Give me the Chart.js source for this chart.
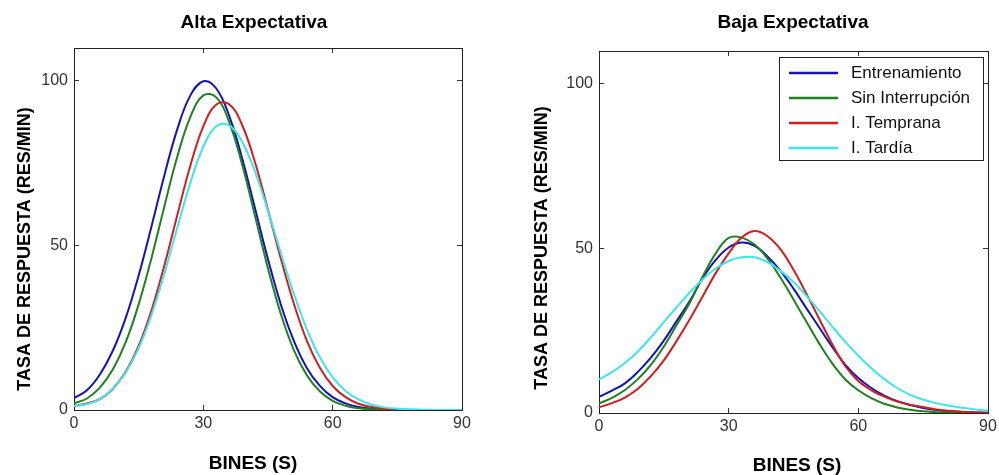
<!DOCTYPE html>
<html>
<head>
<meta charset="utf-8">
<script src="https://cdn.jsdelivr.net/npm/chart.js@4.4.1/dist/chart.umd.min.js"></script>
<style>
  body { margin: 0; background: #fff; }
  #wrap { position: relative; width: 999px; height: 475px; }
  .box { position: absolute; top: 0; height: 475px; }
</style>
</head>
<body>
<div id="wrap">
  <div class="box" style="left:0;width:499px"><canvas id="alta"></canvas></div>
  <div class="box" style="left:499px;width:500px"><canvas id="baja"></canvas></div>
</div>
<script>
// bins (seconds)
const bins = [0, 3, 6, 9, 12, 15, 18, 21, 24, 27, 30, 33, 36, 39, 42, 45, 48, 51, 54, 57, 60, 63, 66, 69, 72, 75, 78, 81, 84, 87, 90];
const xTicks = [0, 30, 60, 90];
const yTicks = [0, 50, 100];
const seriesNames = ['Entrenamiento', 'Sin Interrupción', 'I. Temprana', 'I. Tardía'];

// Alta Expectativa
const altaEntrenamiento = [3.6, 6.0, 10.8, 18.0, 28.0, 40.9, 55.9, 71.5, 85.5, 95.6, 99.9, 97.7, 89.4, 76.5, 61.2, 45.8, 32.0, 21.0, 12.8, 7.4, 3.9, 2.0, 0.9, 0.4, 0.15, 0, 0, 0, 0, 0, 0];
const altaSinInterrupcion = [2.0, 3.5, 6.8, 12.3, 20.6, 32.1, 46.3, 62.1, 77.2, 89.1, 95.6, 95.0, 87.5, 74.6, 58.9, 43.0, 29.1, 18.2, 10.6, 5.7, 2.8, 1.3, 0.5, 0.2, 0.1, 0, 0, 0, 0, 0, 0];
const altaTemprana = [1.2, 2.0, 3.3, 6.4, 11.6, 19.5, 30.4, 44.1, 59.4, 74.3, 86.2, 92.8, 92.9, 86.6, 75.2, 60.8, 45.9, 32.3, 21.1, 12.9, 7.3, 3.9, 1.9, 0.9, 0.4, 0.15, 0, 0, 0, 0, 0];
const altaTardia = [1.2, 1.8, 3.3, 6.4, 11.4, 18.8, 29.0, 41.6, 55.6, 69.1, 80.0, 86.2, 86.5, 81.5, 72.4, 60.5, 47.6, 35.3, 24.6, 16.1, 10.0, 5.8, 3.2, 1.6, 0.8, 0.4, 0.2, 0.1, 0, 0, 0];

// Baja Expectativa
const bajaEntrenamiento = [4.9, 6.8, 9.0, 12.5, 16.8, 22.0, 28.0, 34.0, 41.0, 46.5, 50.3, 51.8, 50.8, 47.6, 43.2, 37.8, 31.8, 25.9, 20.0, 14.6, 10.6, 7.6, 5.3, 3.6, 2.4, 1.5, 0.9, 0.5, 0.3, 0.15, 0.1];
const bajaSinInterrupcion = [2.9, 4.6, 7.0, 10.3, 14.6, 20.2, 26.8, 33.5, 41.5, 48.5, 53.2, 53.3, 51.2, 46.9, 41.1, 34.5, 27.7, 21.0, 15.0, 10.2, 6.9, 4.5, 2.8, 1.7, 1.0, 0.5, 0.25, 0.1, 0.05, 0, 0];
const bajaTemprana = [1.7, 3.0, 4.7, 7.4, 11.2, 16.0, 22.0, 28.5, 35.5, 42.5, 48.5, 53.3, 55.3, 53.7, 49.7, 43.5, 36.2, 28.5, 20.8, 14.2, 9.7, 6.9, 5.0, 3.5, 2.5, 1.8, 1.1, 0.7, 0.4, 0.2, 0.1];
const bajaTardia = [10.2, 12.4, 15.2, 18.7, 23.0, 27.6, 32.2, 36.6, 40.6, 43.9, 46.2, 47.3, 47.3, 45.8, 43.2, 39.8, 35.6, 31.0, 26.2, 21.6, 17.4, 13.6, 10.3, 7.6, 5.5, 4.1, 3.0, 2.2, 1.6, 1.1, 0.7];

const colors = ['#1414b4', '#1e821e', '#d21e1e', '#3ce6eb'];
const FONT = '"Liberation Sans", Arial, sans-serif';

function makeDatasets(lists) {
    return lists.map((vals, i) => ({
        label: seriesNames[i],
        data: bins.map((b, k) => ({ x: b, y: vals[k] })),
        borderColor: colors[i],
        backgroundColor: colors[i],
        borderWidth: 2,
        pointRadius: 0,
        fill: false,
        tension: 0.4,
        order: lists.length - i   // last series drawn on top
    }));
}

// titles and axis labels drawn on the canvas
const textPlugin = {
    id: 'textos',
    afterDraw(chart, args, o) {
        const ctx = chart.ctx;
        ctx.save();
        ctx.fillStyle = '#000';
        ctx.textAlign = 'center';
        ctx.textBaseline = 'alphabetic';
        ctx.font = 'bold 19px ' + FONT;
        ctx.fillText(o.title, o.titleX, o.titleY);
        ctx.fillText(o.xLabel, o.xLabelX, o.xLabelY);
        ctx.font = 'bold 18px ' + FONT;
        ctx.translate(o.yLabelX, o.yLabelY);
        ctx.rotate(-Math.PI / 2);
        ctx.fillText(o.yLabel, 0, 0);
        ctx.restore();
    }
};

// boxed legend inside the plot
const legendPlugin = {
    id: 'leyenda',
    afterDatasetsDraw(chart, args, o) {
        if (!o.show) return;
        const ctx = chart.ctx;
        ctx.save();
        ctx.fillStyle = '#fff';
        ctx.fillRect(o.x, o.y, o.w, o.h);
        ctx.strokeStyle = '#222';
        ctx.lineWidth = 1;
        ctx.strokeRect(o.x + 0.5, o.y + 0.5, o.w, o.h);
        ctx.font = '17px ' + FONT;
        ctx.textBaseline = 'middle';
        ctx.textAlign = 'left';
        chart.data.datasets.forEach((ds, i) => {
            const cy = o.y + o.first + i * o.step;
            ctx.strokeStyle = ds.borderColor;
            ctx.lineWidth = 2.5;
            ctx.beginPath();
            ctx.moveTo(o.x + 10, cy);
            ctx.lineTo(o.x + 59, cy);
            ctx.stroke();
            ctx.fillStyle = '#111';
            ctx.fillText(ds.label, o.x + 72, cy);
        });
        ctx.restore();
    }
};

function axis(pos, min, max, size, showLabels, tickList, pad) {
    const horiz = pos === 'bottom' || pos === 'top';
    return {
        type: 'linear',
        position: pos,
        min: min,
        max: max,
        afterBuildTicks: s => { s.ticks = tickList.map(v => ({ value: v })); },
        ticks: {
            display: showLabels,
            color: '#333',
            padding: pad,
            font: { family: FONT, size: 16 },
            maxRotation: 0
        },
        grid: {
            drawOnChartArea: false,
            drawTicks: true,
            tickLength: -5,
            color: '#333',
            lineWidth: 1
        },
        border: { display: true, color: '#222', width: 1 },
        afterFit: s => {
            if (horiz) {
                s.height = size;
                s.paddingLeft = 0;
                s.paddingRight = 0;
            } else {
                s.width = size;
                s.paddingTop = 0;
                s.paddingBottom = 0;
            }
        }
    };
}

function makeChart(id, lists, box, texts, legend) {
    return new Chart(document.getElementById(id), {
        type: 'line',
        data: { datasets: makeDatasets(lists) },
        options: {
            responsive: true,
            maintainAspectRatio: false,
            animation: false,
            layout: { padding: 0 },
            scales: {
                x: axis('bottom', 0, 90, box.bottom, true, xTicks, 9),
                x2: axis('top', 0, 90, box.top, false, xTicks, 0),
                y: axis('left', 0, 110, box.left, true, yTicks, 11),
                y2: axis('right', 0, 110, box.right, false, yTicks, 0)
            },
            plugins: {
                legend: { display: false },
                tooltip: { enabled: false },
                textos: texts,
                leyenda: legend
            }
        },
        plugins: [textPlugin, legendPlugin]
    });
}

makeChart('alta',
    [altaEntrenamiento, altaSinInterrupcion, altaTemprana, altaTardia],
    { left: 74, right: 37, top: 48, bottom: 65 },
    {
        title: 'Alta Expectativa', titleX: 254, titleY: 28,
        xLabel: 'BINES (S)', xLabelX: 253, xLabelY: 469,
        yLabel: 'TASA DE RESPUESTA (RES/MIN)', yLabelX: 30, yLabelY: 249
    },
    { show: false });

makeChart('baja',
    [bajaEntrenamiento, bajaSinInterrupcion, bajaTemprana, bajaTardia],
    { left: 100, right: 11, top: 51, bottom: 62 },
    {
        title: 'Baja Expectativa', titleX: 294, titleY: 28,
        xLabel: 'BINES (S)', xLabelX: 298, xLabelY: 471,
        yLabel: 'TASA DE RESPUESTA (RES/MIN)', yLabelX: 48, yLabelY: 248
    },
    { show: true, x: 280, y: 57, w: 204, h: 103, first: 16, step: 25 });
</script>
</body>
</html>
